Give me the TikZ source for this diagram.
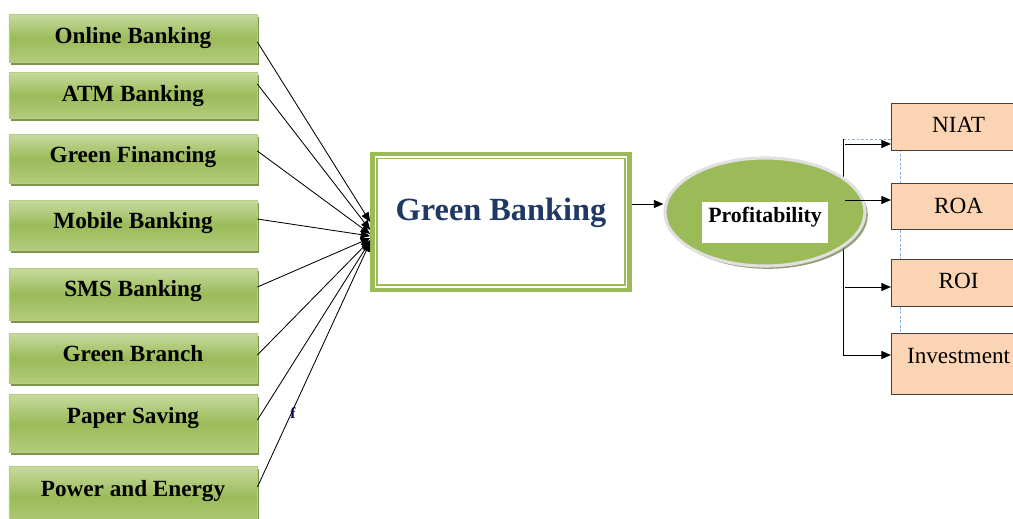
\documentclass[tikz,border=0pt]{standalone}
\usepackage{fontspec}
\setmainfont{Liberation Serif}
\usetikzlibrary{arrows.meta,shadows,shapes.geometric}
\definecolor{gtop}{HTML}{C6DA9E}
\definecolor{gmid}{HTML}{9BBB59}
\definecolor{gbot}{HTML}{B3CC7C}
\definecolor{gedge}{HTML}{B5CF85}
\definecolor{gshade}{HTML}{6F8A3A}
\definecolor{gbtext}{HTML}{1F3864}
\definecolor{peach}{HTML}{FBD4B4}
\definecolor{dashblue}{HTML}{8DB3E2}

\begin{document}
\begin{tikzpicture}[x=0.025cm,y=-0.025cm,
   gbox/.style={draw=gedge,line width=0.5pt,top color=gtop,bottom color=gbot,middle color=gmid,
      minimum width=6.2cm,inner sep=0pt,anchor=north,
      font=\bfseries\fontsize{16.5}{18}\selectfont,
      drop shadow={shadow xshift=1.6pt,shadow yshift=-1.6pt,fill=gshade,opacity=0.9}},
   rbox/.style={draw=black!75,line width=0.8pt,fill=peach,minimum width=3.35cm,inner sep=0pt,
      anchor=north west,font=\fontsize{16.5}{18}\selectfont},
   arr/.style={-{Triangle[length=2.4mm,width=2mm]},line width=0.6pt},
   link/.style={line width=0.6pt},
   bluedash/.style={draw=dashblue,dash pattern=on 2pt off 1.2pt,line width=0.6pt}]
\useasboundingbox (0,0) rectangle (1013,519);

% dimensions: name / text / top / bottom / baseline
\foreach \n/\txt/\ya/\yb/\bl in {
   1/Online Banking/14/62/43.5,
   2/ATM Banking/72/118/101.5,
   3/Green Financing/134/183/162.5,
   4/Mobile Banking/200/250/228.5,
   5/SMS Banking/268/320/296.5,
   6/Green Branch/333/383/361.5,
   7/Paper Saving/394/452/423.5,
   8/Power and Energy/466/528/496.5}
{
  \pgfmathsetmacro\th{(\bl-\ya)*0.025}
  \pgfmathsetmacro\td{(\yb-\bl)*0.025}
  \node[gbox,text height=\th cm,text depth=\td cm] (b\n) at (133,\ya) {\txt};
}

% central box
\node[draw=gmid,line width=3.2pt,fill=white,minimum width=6.425cm,inner sep=0pt,
      text height=1.6625cm,text depth=1.7375cm,text=gbtext,
      font=\bfseries\fontsize{23}{25}\selectfont] (gb) at (501,151.5) [anchor=north] {Green Banking};
\draw[gmid,line width=1.2pt] ([shift={(7,7)}]gb.north west) rectangle ([shift={(-7,-7)}]gb.south east);

\foreach \n/\ly/\ey in {1/42/222,2/84/230,3/151/234,4/219/236,5/287/238,6/355/240,7/420/241,8/487/242}
  \draw[arr] (b\n.east |- 0,\ly) -- (gb.west |- 0,\ey);

\node[font=\bfseries\fontsize{11}{11}\selectfont,text=black!70!blue] (fmark) at (293,413) {f};

% profitability
\coordinate (st) at (843,139);
\coordinate (sb) at (843,355);
\draw[bluedash] (st) -- (900,139) -- (900,333);
\draw[link] (st) -- (sb);
\node[ellipse,draw=black!12,line width=2.2pt,fill=gmid,minimum width=5cm,minimum height=2.7cm,
      drop shadow={shadow xshift=2pt,shadow yshift=-2pt,fill=gshade!60!gray,opacity=0.8}] (pe) at (765,212) {};
\node[fill=white,minimum width=3.15cm,inner sep=0pt,text height=0.51cm,text depth=0.51cm,
      font=\bfseries\fontsize{15.5}{17}\selectfont] (pw) at (765,222.5) {Profitability};
\draw[arr] (gb.east |- 0,204) -- (pe.west |- 0,204);

\node[rbox,text height=0.725cm,text depth=0.45cm] (niat) at (891,103) {NIAT};
\node[rbox,text height=0.75cm,text depth=0.4cm] (roa) at (891,183) {ROA};
\node[rbox,text height=0.725cm,text depth=0.45cm] (roi) at (891,259) {ROI};
\node[rbox,text height=0.75cm,text depth=0.775cm] (inv) at (891,333) {Investment};

\draw[arr] (845,144) -- (niat.west |- 0,144);
\draw[arr] (845,200) -- (roa.west |- 0,200);
\draw[arr] (845,287) -- (roi.west |- 0,287);
\draw[arr] (sb) -- (inv.west |- sb);
\end{tikzpicture}
\end{document}
